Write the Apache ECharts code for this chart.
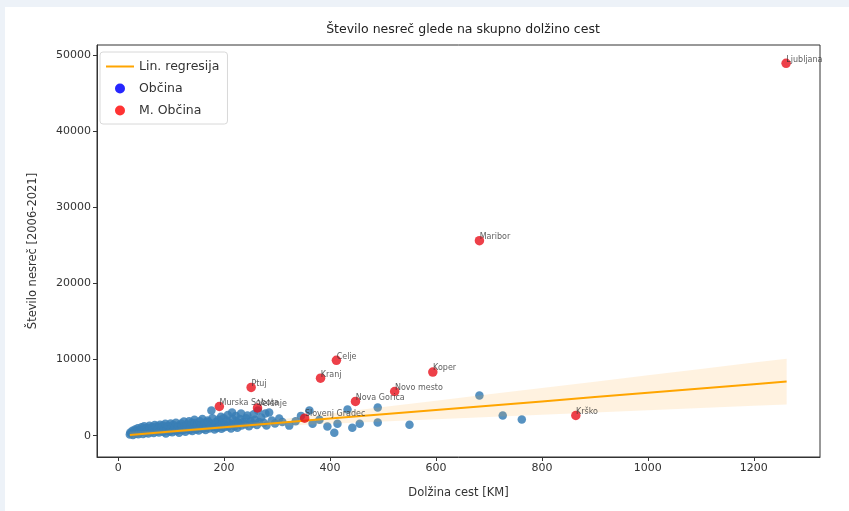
<!DOCTYPE html>
<html>
<head>
<meta charset="utf-8">
<script src="https://cdn.jsdelivr.net/npm/echarts@6/dist/echarts.min.js"></script>
<style>
html,body{margin:0;padding:0;width:849px;height:511px;background:#edf2f8;overflow:hidden;}
#chart{position:absolute;left:5px;top:7px;width:844px;height:504px;background:#fff;}
</style>
</head>
<body>
<div id="chart"></div>
<script>
// Blue points: [road length km, accidents]
const obcinaPoints = [
[22,150],[23,420],[25,300],[27,650],[28,80],[30,420],[32,820],[33,250],[35,600],[37,980],[38,180],[40,350],[42,700],[44,1100],[45,500],
[47,230],[49,1250],[50,880],[52,400],[54,1050],[55,620],[57,300],[59,1300],[60,950],[62,480],[64,1150],[65,720],[67,350],[69,1400],[70,1050],
[72,560],[74,1250],[75,800],[77,420],[79,1450],[80,650],[82,1100],[84,1350],[85,500],[87,880],[89,1550],[90,300],[92,720],[94,1300],[95,1200],
[97,560],[99,1600],[100,900],[102,450],[104,1450],[105,750],[107,1150],[109,1700],[110,620],[112,980],[114,1350],[115,400],[117,820],[119,1600],[120,1300],
[122,700],[124,1850],[125,1050],[127,520],[129,1500],[130,880],[132,1400],[134,1900],[135,760],[137,1150],[139,1700],[140,600],[142,980],[144,2100],[145,1650],
[147,820],[149,1450],[150,1250],[152,680],[154,1900],[155,1050],[157,1500],[159,2200],[160,900],[162,1300],[164,1700],[165,740],[167,1100],[169,2000],[170,1800],
[172,950],[174,1600],[175,1350],[176,3300],[178,2300],[180,1150],[182,800],[184,1750],[185,1500],[187,1000],[189,2100],[190,1900],[192,1250],[194,2500],[195,900],
[197,1600],[199,2300],[200,1100],[203,1400],[205,2000],[207,2700],[208,1200],[210,1700],[213,950],[215,3030],[216,2200],[218,1500],[220,1250],[222,2600],
[223,1900],[225,1050],[228,1650],[230,2200],[232,2900],[233,1350],[236,1800],[240,1500],[242,2300],[244,2640],[247,1250],[250,1900],
[254,1600],[256,2800],[258,2100],[262,1400],[264,3300],[266,1800],[270,2400],[275,1700],[278,2900],[280,1350],[285,3030],[290,2000],[296,1600],
[304,2240],[310,1800],[323,1320],[335,1900],[345,2600],[361,3300],[367,1580],[380,2100],[395,1200],[408,400],
[414,1580],[433,3430],[442,1055],[456,1580],[490,3690],[490,1715],[550,1450],[682,5280],[726,2640],[762,2110]
];
// Red points: city municipalities
const moNames = ["Ljubljana","Maribor","Celje","Kranj","Koper","Novo mesto","Nova Gorica","Ptuj","Murska Sobota","Velenje","Slovenj Gradec","Krško"];
const moLength = [1261,682,412,382,594,522,448,251,191,263,352,864];
const moAccidents = [48900,25600,9900,7550,8350,5800,4500,6330,3830,3650,2300,2650];
// Regression line and confidence band
const regX = [22,100,200,300,400,500,600,700,800,900,1000,1100,1200,1262];
const regY = [104,545,1110,1675,2240,2805,3370,3935,4500,5065,5630,6195,6760,7110];
const bandLower = [-296,325,890,1255,1560,1855,2150,2445,2740,3035,3330,3625,3920,4110];
const bandUpper = [504,765,1330,2095,2920,3755,4590,5425,6260,7095,7930,8765,9600,10110];
const yTicks = [0,10000,20000,30000,40000,50000];

const FONT = 'DejaVu Sans';
const chart = echarts.init(document.getElementById('chart'));
const moData = moNames.map((n,i)=>({name:n, value:[moLength[i], moAccidents[i]]}));
const lineData = regX.map((x,i)=>[x, regY[i]]);
const bandData = regX.map((x,i)=>[x, bandLower[i], bandUpper[i]]);

function renderBand(params, api){
  if (params.dataIndex !== 0) return null;
  const pts = [];
  for (let i=0;i<regX.length;i++) pts.push(api.coord([regX[i], bandUpper[i]]));
  for (let i=regX.length-1;i>=0;i--) pts.push(api.coord([regX[i], bandLower[i]]));
  return {type:'polygon', shape:{points:pts}, style:{fill:'rgba(255,170,50,0.15)', stroke:'none'}, silent:true};
}

chart.setOption({
  animation:false,
  title:{text:'Število nesreč glede na skupno dolžino cest', left:453, top:11, textAlign:'center',
    textStyle:{fontFamily:FONT, fontSize:12.5, fontWeight:'normal', color:'#222'}},
  grid:{left:92, right:29, top:38, bottom:54, show:true, borderColor:'#333', borderWidth:1, backgroundColor:'transparent'},
  legend:{orient:'vertical', left:95, top:45, itemWidth:28, itemHeight:10, itemGap:9,
    padding:[8,8,7,6], borderColor:'#d8d8d8', borderWidth:1, borderRadius:3, backgroundColor:'#fff',
    textStyle:{fontFamily:FONT, fontSize:12.5, color:'#333'},
    data:[
      {name:'Lin. regresija', icon:'path://M0,0 H28 V2 H0 Z', itemStyle:{color:'#ffa500'}},
      {name:'Občina', icon:'circle', itemStyle:{color:'#0000ff'}},
      {name:'M. Občina', icon:'circle', itemStyle:{color:'#ff0000'}}
    ]},
  xAxis:{type:'value', min:-40, max:1325, splitNumber:7,
    name:'Dolžina cest [KM]', nameLocation:'middle', nameGap:30,
    nameTextStyle:{fontFamily:FONT, fontSize:11.5, color:'#333'},
    axisLine:{show:true, onZero:false, lineStyle:{color:'#333'}},
    axisTick:{show:true, inside:false, length:4, lineStyle:{color:'#333'}},
    axisLabel:{fontFamily:FONT, fontSize:11, color:'#333', margin:6, showMinLabel:false, showMaxLabel:false,
      formatter:(v)=>String(v)},
    splitLine:{show:false}},
  yAxis:{type:'value', min:-2800, max:51300, splitNumber:5,
    name:'Število nesreč [2006-2021]', nameLocation:'middle', nameGap:58,
    nameTextStyle:{fontFamily:FONT, fontSize:11.5, color:'#333'},
    axisLine:{show:true, onZero:false, lineStyle:{color:'#333'}},
    axisTick:{show:true, inside:false, length:4, lineStyle:{color:'#333'}},
    axisLabel:{fontFamily:FONT, fontSize:11, color:'#333', margin:6, showMinLabel:false, showMaxLabel:false,
      formatter:(v)=> yTicks.indexOf(v) >= 0 ? String(v) : ''},
    splitLine:{show:false}},
  series:[
    {name:'Občina', type:'scatter', data:obcinaPoints, symbolSize:8.5,
      itemStyle:{color:'#3a7fb6', opacity:0.85}, z:2},
    {name:'band', type:'custom', data:bandData, renderItem:renderBand,
      encode:{x:0, y:[1,2]}, silent:true, z:3},
    {name:'Lin. regresija', type:'line', data:lineData, symbol:'none', showSymbol:false,
      lineStyle:{color:'#ffa500', width:2}, itemStyle:{color:'#ffa500'}, z:4},
    {name:'M. Občina', type:'scatter', data:moData, symbolSize:9.5,
      itemStyle:{color:'#e8101c'}, z:5,
      label:{show:true, formatter:'{b}', position:[5,5], align:'left', verticalAlign:'bottom',
        fontFamily:FONT, fontSize:8, color:'#333'}}
  ]
});
</script>
</body>
</html>
